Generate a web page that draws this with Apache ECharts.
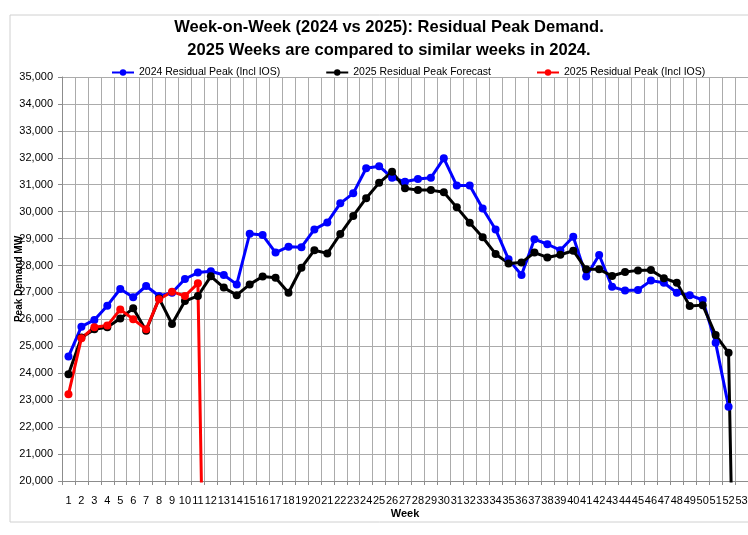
<!DOCTYPE html>
<html>
<head>
<meta charset="utf-8">
<script src="https://cdn.jsdelivr.net/npm/echarts@6/dist/echarts.min.js"></script>
<style>
  html, body { margin: 0; padding: 0; background: #fff; }
  #chart { width: 748px; height: 535px; }
</style>
</head>
<body>
<div id="chart"></div>
<script>
// weeks on the x axis
const weeks = ['1','2','3','4','5','6','7','8','9','10','11','12','13','14','15','16','17','18','19','20',
  '21','22','23','24','25','26','27','28','29','30','31','32','33','34','35','36','37','38','39','40',
  '41','42','43','44','45','46','47','48','49','50','51','52','53']

// 2024 residual peak (incl IOS), weeks 1-52
const peak2024 = [24620, 25730, 25980, 26510, 27130, 26820, 27240, 26870, 26990, 27500,
  27740, 27790, 27650, 27300, 29180, 29130, 28480, 28700, 28680, 29340,
  29600, 30310, 30680, 31610, 31690, 31260, 31110, 31210, 31260, 31980,
  30970, 30970, 30120, 29340, 28230, 27650, 28980, 28790, 28570, 29070,
  27590, 28390, 27210, 27070, 27090, 27440, 27360, 26990, 26900, 26720,
  25130, 22760]

// 2025 residual peak forecast, weeks 1-53
const forecast2025 = [23960, 25330, 25630, 25710, 26030, 26410, 25580, 26780, 25830, 26680,
  26870, 27600, 27180, 26900, 27300, 27590, 27550, 26990, 27920, 28570,
  28450, 29170, 29840, 30500, 31070, 31480, 30870, 30800, 30800, 30720,
  30160, 29590, 29050, 28430, 28080, 28110, 28480, 28300, 28400, 28550,
  27860, 27860, 27610, 27760, 27820, 27830, 27530, 27360, 26500, 26530,
  25420, 24760, 0]

// 2025 residual peak (incl IOS), weeks 1-12
const actual2025 = [23220, 25300, 25710, 25770, 26370, 26010, 25630, 26750, 27030, 26870,
  27340, 0]

const seriesNames = ['2024 Residual Peak (Incl IOS)', '2025 Residual Peak Forecast', '2025 Residual Peak (Incl IOS)']
const seriesColors = ['#0000ff', '#000000', '#ff0000']

const font = "'Liberation Sans', Arial, sans-serif"

const chart = echarts.init(document.getElementById('chart'))

const makeLine = (name, data, color) => ({
  name,
  type: 'line',
  data,
  symbol: 'circle',
  symbolSize: 8,
  clip: true,
  lineStyle: { width: 3, color },
  itemStyle: { color },
  emphasis: { disabled: true },
  animation: false
})

chart.setOption({
  backgroundColor: '#fff',
  animation: false,
  graphic: [{
    type: 'rect',
    shape: { x: 10, y: 15, width: 760, height: 507 },
    style: { fill: 'none', stroke: '#d0d0d0', lineWidth: 1 },
    silent: true,
    z: -1
  }],
  title: {
    text: 'Week-on-Week (2024 vs 2025): Residual Peak Demand.\n2025 Weeks are compared to similar weeks in 2024.',
    left: 384,
    textAlign: 'center',
    top: 11,
    textStyle: { fontFamily: font, fontSize: 16.5, fontWeight: 'bold', color: '#000', lineHeight: 23 }
  },
  legend: {
    top: 62,
    left: 106,
    itemGap: 45,
    itemWidth: 22,
    itemHeight: 8,
    data: seriesNames,
    textStyle: { fontFamily: font, fontSize: 10.5, color: '#000' }
  },
  grid: { left: 62, right: 0, top: 77, bottom: 54, outerBoundsMode: 'none', containLabel: false },
  xAxis: {
    type: 'category',
    data: weeks,
    boundaryGap: true,
    name: 'Week',
    nameLocation: 'middle',
    nameGap: 27,
    nameMoveOverlap: false,
    nameTextStyle: { fontFamily: font, fontSize: 11, fontWeight: 'bold', color: '#000' },
    axisLine: { lineStyle: { color: '#8c8c8c' } },
    axisTick: { show: true, length: 4, lineStyle: { color: '#8c8c8c' } },
    axisLabel: { interval: 0, fontFamily: font, fontSize: 11, color: '#000', margin: 14 },
    splitLine: { show: true, interval: 0, lineStyle: { color: '#ababab', width: 1 } }
  },
  yAxis: {
    type: 'value',
    min: 20000,
    max: 35000,
    interval: 1000,
    name: 'Peak Demand MW',
    nameLocation: 'middle',
    nameGap: 38,
    nameMoveOverlap: false,
    nameTextStyle: { fontFamily: font, fontSize: 10, fontWeight: 'bold', color: '#000' },
    axisLine: { show: true, lineStyle: { color: '#8c8c8c' } },
    axisTick: { show: true, length: 4, lineStyle: { color: '#8c8c8c' } },
    axisLabel: {
      fontFamily: font, fontSize: 11, color: '#000', margin: 9,
      formatter: v => v.toLocaleString('en-US')
    },
    splitLine: { show: true, lineStyle: { color: '#ababab', width: 1 } }
  },
  series: [
    makeLine(seriesNames[0], peak2024, seriesColors[0]),
    makeLine(seriesNames[1], forecast2025, seriesColors[1]),
    makeLine(seriesNames[2], actual2025, seriesColors[2])
  ]
})
</script>
</body>
</html>
